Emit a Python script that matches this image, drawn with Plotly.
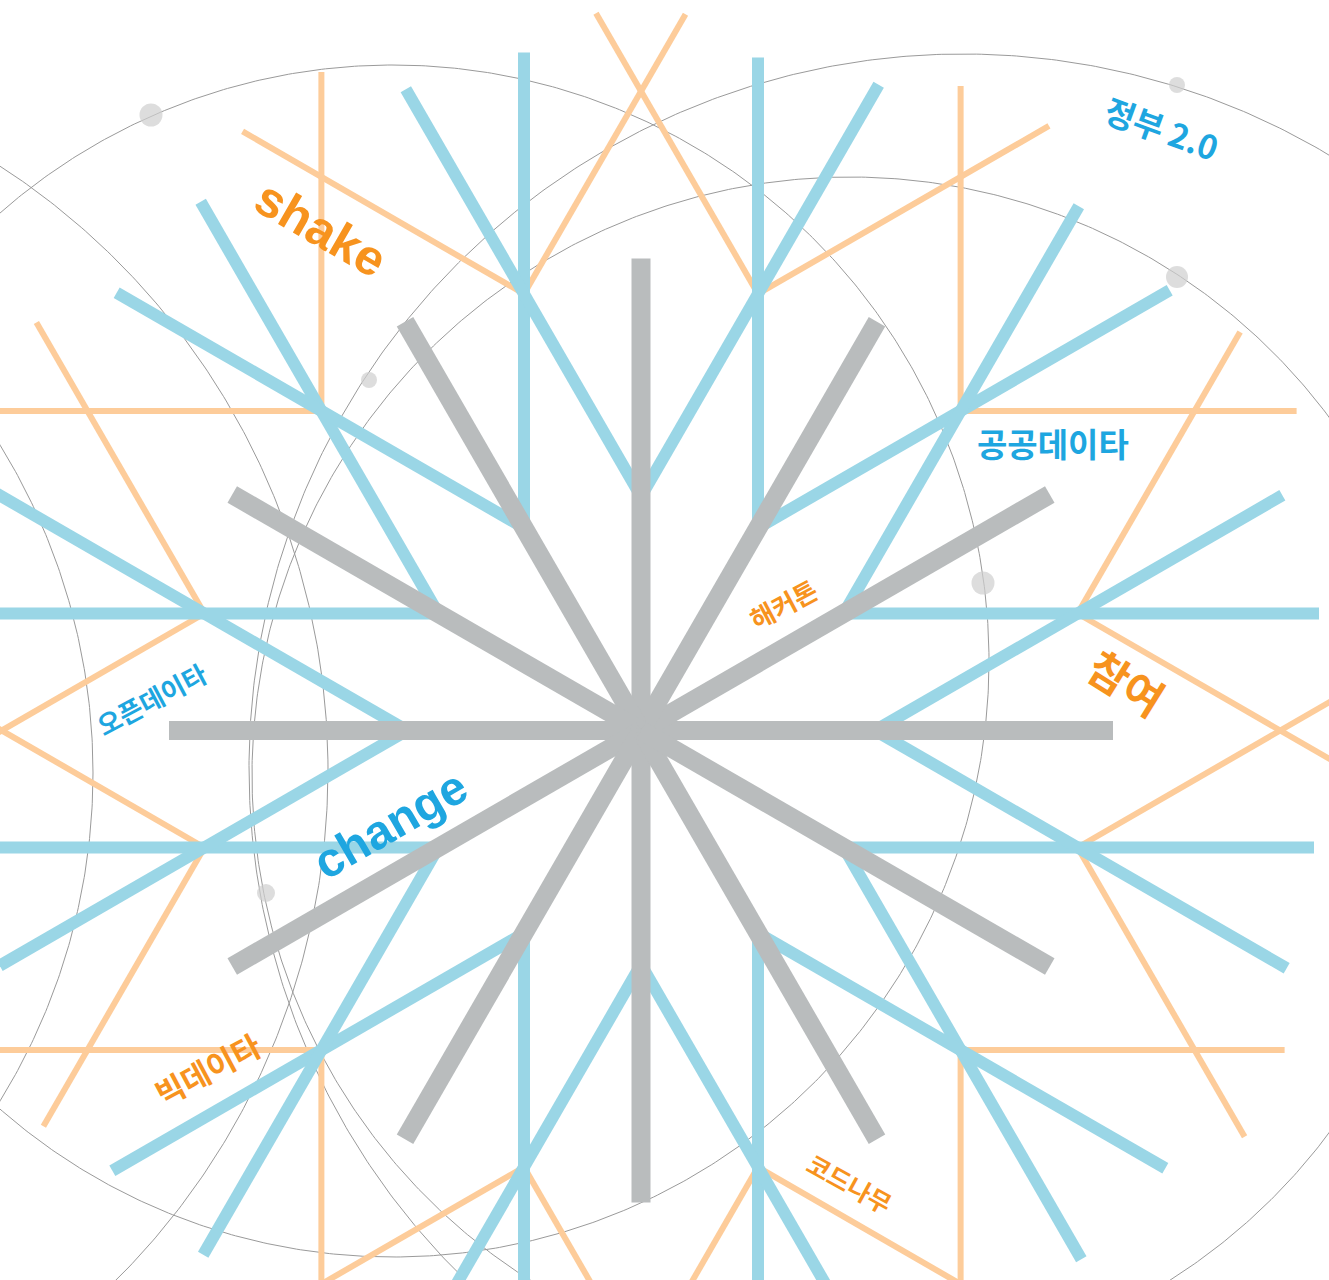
import numpy as np
import plotly.graph_objects as go

# ---------------- data ----------------
W, H = 1329, 1280
CENTER_X, CENTER_Y = 641, 730.5

# main gray spokes (degrees, math orientation) and their length
SPOKE_ANGLES = [0, 30, 60, 90, 120, 150, 180, 210, 240, 270, 300, 330]
SPOKE_LENGTH = 472

# blue branches: parallel to every spoke, offset on both sides
BRANCH_OFFSET = 117
BRANCH_START = 203
BRANCH_END_CCW = 678
BRANCH_END_CW = 673

# orange twigs: start at the branch crossings
CORNER_ANGLES = [15, 45, 75, 105, 135, 165, 195, 225, 255, 285, 315, 345]
CORNER_DISTANCE = 452
TWIG_LEN_CCW = [325, 325, 324, 325, 330, 330, 322, 330, 330, 330, 324, 330]
TWIG_LEN_CW = [330, 336, 336, 323, 339, 336, 330, 330, 330, 330, 330, 334]

# thin orbit rings
RING_CX = [393, 963, 850, -392, -532]
RING_CY = [661, 768, 775, 770, 773]
RING_R = [596, 714, 598, 720, 625]

# dots sitting on the rings
DOT_X = [151, 1177, 1177, 369, 983, 266]
DOT_Y = [115, 85, 277, 380, 583, 893]
DOT_D = [23, 16, 22, 16, 23, 18]

# labels
LABELS = ["shake", "정부 2.0", "공공데이타", "해커톤", "참여", "오픈데이타", "change", "빅데이타", "코드나무"]
LABEL_X = [321, 1162, 1053, 783, 1127, 151, 390, 207, 850]
LABEL_Y = [229, 128, 443, 603, 681, 698, 824, 1068, 1183]
LABEL_ANGLE = [30, 20, 0, -28, 32, -28, -30, -28, 29]
LABEL_SIZE = [50, 33, 33, 26, 43, 26, 48, 31, 25]
LABEL_TONE = ["orange", "blue", "blue", "orange", "orange", "blue", "blue", "orange", "orange"]

# ---------------- styles ----------------
GRAY = "#B9BCBD"
BLUE_LINE = "#9AD6E6"
ORANGE_LINE = "#FDCC9A"
RING = "#9A9A9A"
DOT = "#CFCFCF"
TEXT_COLORS = {"blue": "#1EA6E0", "orange": "#F7931E"}


def u(deg):
    r = np.deg2rad(deg)
    return np.array([np.cos(r), -np.sin(r)])  # screen coords (y down)


C = np.array([CENTER_X, CENTER_Y])

# gray spokes
gx, gy = [], []
for a in SPOKE_ANGLES:
    p = C + SPOKE_LENGTH * u(a)
    gx += [C[0], p[0], None]
    gy += [C[1], p[1], None]

# blue branches
bx, by = [], []
for a in SPOKE_ANGLES:
    for side, end in ((1, BRANCH_END_CCW), (-1, BRANCH_END_CW)):
        off = BRANCH_OFFSET * u(a + 90 * side)
        p0 = C + BRANCH_START * u(a) + off
        p1 = C + end * u(a) + off
        bx += [p0[0], p1[0], None]
        by += [p0[1], p1[1], None]

# orange twigs
ox, oy = [], []
for a, lc, lw in zip(CORNER_ANGLES, TWIG_LEN_CCW, TWIG_LEN_CW):
    corner = C + CORNER_DISTANCE * u(a)
    for d, ln in ((a + 45, lc), (a - 45, lw)):
        p = corner + ln * u(d)
        ox += [corner[0], p[0], None]
        oy += [corner[1], p[1], None]

# rings
rx, ry = [], []
t = np.linspace(0, 2 * np.pi, 900)
for cx, cy, r in zip(RING_CX, RING_CY, RING_R):
    rx += list(cx + r * np.cos(t)) + [None]
    ry += list(cy + r * np.sin(t)) + [None]

fig = go.Figure()
fig.add_trace(go.Scatter(x=rx, y=ry, mode="lines", line=dict(color=RING, width=1),
                         hoverinfo="skip", showlegend=False))
fig.add_trace(go.Scatter(x=DOT_X, y=DOT_Y, mode="markers",
                         marker=dict(color=DOT, size=DOT_D, line=dict(width=0)),
                         hoverinfo="skip", showlegend=False))
fig.add_trace(go.Scatter(x=ox, y=oy, mode="lines", line=dict(color=ORANGE_LINE, width=6),
                         hoverinfo="skip", showlegend=False))
fig.add_trace(go.Scatter(x=bx, y=by, mode="lines", line=dict(color=BLUE_LINE, width=12),
                         hoverinfo="skip", showlegend=False))
fig.add_trace(go.Scatter(x=gx, y=gy, mode="lines", line=dict(color=GRAY, width=19),
                         hoverinfo="skip", showlegend=False))

for txt, x, y, ang, sz, tone in zip(LABELS, LABEL_X, LABEL_Y, LABEL_ANGLE, LABEL_SIZE, LABEL_TONE):
    latin = txt.isascii()
    fig.add_annotation(
        x=x, y=y, text=txt, showarrow=False, textangle=ang,
        xanchor="center", yanchor="middle",
        font=dict(family=("Liberation Sans, Arial, sans-serif" if latin else "Noto Sans CJK KR"),
                  size=sz, color=TEXT_COLORS[tone], weight="bold"),
    )

fig.update_layout(
    width=W, height=H,
    margin=dict(l=0, r=0, t=0, b=0),
    paper_bgcolor="white", plot_bgcolor="white",
    xaxis=dict(range=[0, W], visible=False, fixedrange=True),
    yaxis=dict(range=[H, 0], visible=False, fixedrange=True),
    showlegend=False,
)

fig.write_html("out.html", config={"displayModeBar": False},
               post_script="document.body.style.margin='0';document.body.style.overflow='hidden';")
